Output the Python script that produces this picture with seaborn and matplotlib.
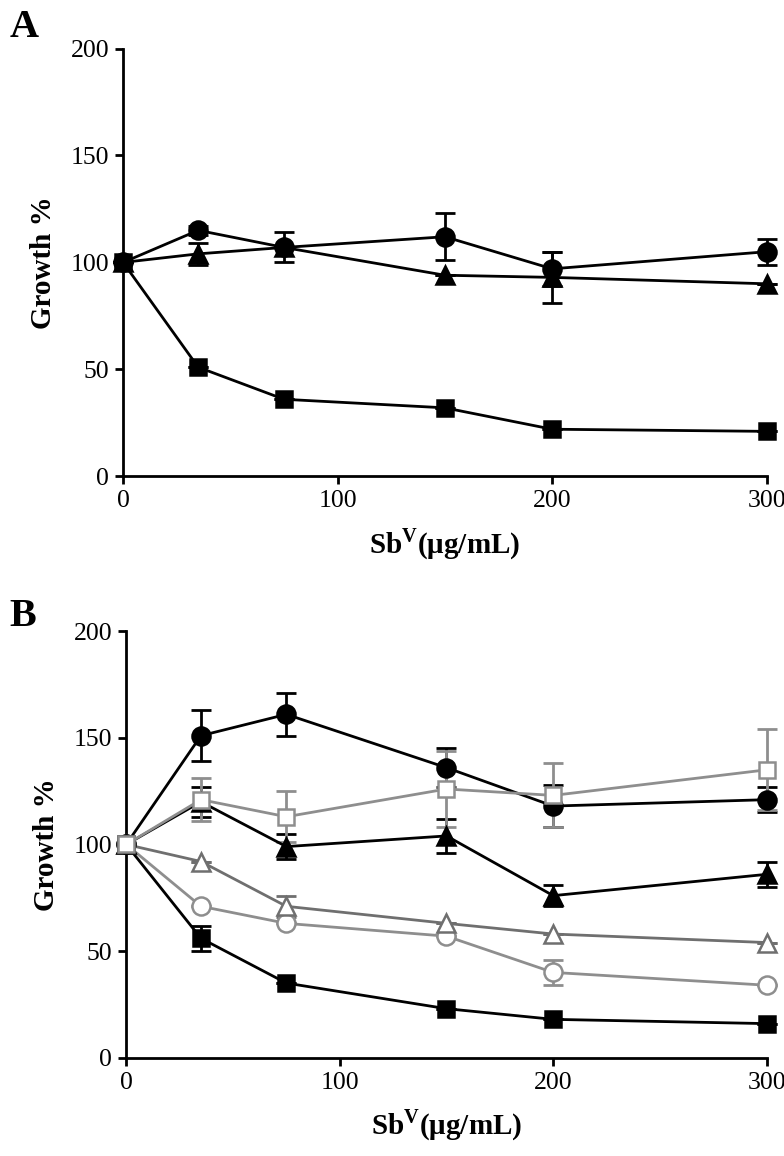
import numpy as np
import pandas as pd
import matplotlib
matplotlib.use("Agg")
import matplotlib.pyplot as plt
import seaborn as sns

# Growth % of parasites vs SbV concentration, panels A and B
dose = [0, 35, 75, 150, 200, 300]

# Panel A
a_circle = [100, 115, 107, 112, 97, 105]
a_circle_sd = [0, 2, 7, 11, 8, 6]
a_triangle = [100, 104, 107, 94, 93, 90]
a_triangle_sd = [0, 5, 0, 0, 12, 0]
a_square = [100, 51, 36, 32, 22, 21]
a_square_sd = [0, 0, 0, 0, 0, 0]

# Panel B
b_circle = [100, 151, 161, 136, 118, 121]
b_circle_sd = [0, 12, 10, 9, 10, 6]
b_open_square = [100, 121, 113, 126, 123, 135]
b_open_square_sd = [0, 10, 12, 18, 15, 19]
b_triangle = [100, 120, 99, 104, 76, 86]
b_triangle_sd = [0, 7, 6, 8, 5, 6]
b_open_triangle = [100, 92, 71, 63, 58, 54]
b_open_triangle_sd = [0, 0, 5, 0, 0, 0]
b_open_circle = [100, 71, 63, 57, 40, 34]
b_open_circle_sd = [0, 0, 0, 0, 6, 0]
b_square = [100, 56, 35, 23, 18, 16]
b_square_sd = [0, 6, 0, 0, 0, 0]

y_ticks = [0, 50, 100, 150, 200]
x_ticks = [0, 100, 200, 300]

sns.set_style("ticks")
plt.rcParams["font.family"] = ["Liberation Serif", "DejaVu Serif"]
plt.rcParams["mathtext.fontset"] = "custom"
plt.rcParams["mathtext.rm"] = "Liberation Serif:bold"
plt.rcParams["mathtext.bf"] = "Liberation Serif:bold"
plt.rcParams["text.color"] = "black"
plt.rcParams["axes.labelcolor"] = "black"

LIGHT = "#8e8e8e"
DARK = "#6f6f6f"
LW = 2.0


def draw_series(ax, y, sd, marker, color, open_marker=False, ms=13):
    df = pd.DataFrame({"dose": dose, "growth": y})
    ax.errorbar(dose, y, yerr=sd, fmt="none", ecolor=color, elinewidth=LW,
                capsize=7, capthick=LW, clip_on=False, zorder=2)
    face = "white" if open_marker else color
    sns.lineplot(data=df, x="dose", y="growth", ax=ax, color=color,
                 linewidth=LW, marker=marker, markersize=ms,
                 markerfacecolor=face, markeredgecolor=color,
                 markeredgewidth=1.8, clip_on=False, zorder=3)


def style_axes(ax):
    ax.set_xlim(0, 300)
    ax.set_ylim(0, 200)
    ax.set_xticks(x_ticks)
    ax.set_yticks(y_ticks)
    sns.despine(ax=ax)
    for s in ["left", "bottom"]:
        ax.spines[s].set_linewidth(2.0)
        ax.spines[s].set_color("black")
    ax.tick_params(direction="out", length=6, width=2.0, labelsize=18.5, pad=4,
                   colors="black")
    ax.set_ylabel("Growth %", fontsize=21, fontweight="bold", labelpad=10)
    ax.set_xlabel(r"Sb$^{\mathrm{V}}$(μg/mL)", fontsize=21, fontweight="bold",
                  labelpad=10)


fig = plt.figure(figsize=(7.84, 11.56), dpi=100)
ax_a = fig.add_axes([0.157, 0.588, 0.821, 0.370])
ax_b = fig.add_axes([0.161, 0.085, 0.817, 0.369])

draw_series(ax_a, a_square, a_square_sd, "s", "black", ms=12)
draw_series(ax_a, a_triangle, a_triangle_sd, "^", "black")
draw_series(ax_a, a_circle, a_circle_sd, "o", "black")
style_axes(ax_a)

draw_series(ax_b, b_square, b_square_sd, "s", "black", ms=12)
draw_series(ax_b, b_open_circle, b_open_circle_sd, "o", LIGHT, open_marker=True)
draw_series(ax_b, b_open_triangle, b_open_triangle_sd, "^", DARK, open_marker=True)
draw_series(ax_b, b_triangle, b_triangle_sd, "^", "black")
draw_series(ax_b, b_circle, b_circle_sd, "o", "black")
draw_series(ax_b, b_open_square, b_open_square_sd, "s", LIGHT, open_marker=True, ms=12)
style_axes(ax_b)

fig.text(0.012, 0.992, "A", fontsize=29, fontweight="bold", va="top")
fig.text(0.012, 0.483, "B", fontsize=29, fontweight="bold", va="top")

fig.savefig("out.png", dpi=100)
